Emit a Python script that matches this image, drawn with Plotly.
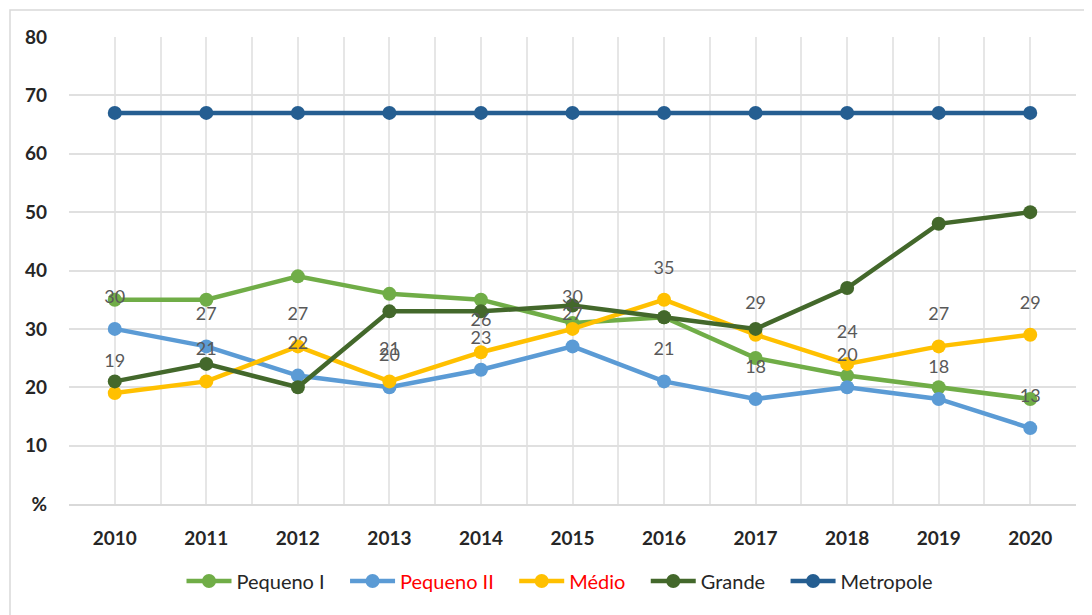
import plotly.graph_objects as go

years = [2010, 2011, 2012, 2013, 2014, 2015, 2016, 2017, 2018, 2019, 2020]
pequeno_i = [35, 35, 39, 36, 35, 31, 32, 25, 22, 20, 18]
pequeno_ii = [30, 27, 22, 20, 23, 27, 21, 18, 20, 18, 13]
medio = [19, 21, 27, 21, 26, 30, 35, 29, 24, 27, 29]
grande = [21, 24, 20, 33, 33, 34, 32, 30, 37, 48, 50]
metropole = [67, 67, 67, 67, 67, 67, 67, 67, 67, 67, 67]

y_ticks = [0, 10, 20, 30, 40, 50, 60, 70, 80]
y_ticktext = ["%", "10", "20", "30", "40", "50", "60", "70", "80"]

FONT = "Lato"
LABEL_COLOR = "#595959"
NB = "&nbsp;" * 3

series = [
    ("Pequeno I", pequeno_i, "#70AD47", False, "#262626"),
    ("Pequeno II", pequeno_ii, "#5B9BD5", True, "#FF0000"),
    ("Médio", medio, "#FFC000", True, "#FF0000"),
    ("Grande", grande, "#43682B", False, "#262626"),
    ("Metropole", metropole, "#255E91", False, "#262626"),
]

fig = go.Figure()
for name, vals, color, labels, legend_color in series:
    fig.add_trace(go.Scatter(
        x=years, y=vals,
        name=f'<span style="color:{legend_color}">{name}</span>' + (NB if name != "Metropole" else ""),
        mode="lines+markers",
        line=dict(color=color, width=4.5),
        marker=dict(color=color, size=14),
        hoverinfo="x+y",
    ))

# data labels (drawn on top)
for name, vals, color, labels, legend_color in series:
    if not labels:
        continue
    fig.add_trace(go.Scatter(
        x=years, y=vals, mode="markers+text",
        marker=dict(size=33, color="rgba(0,0,0,0)"),
        text=[str(v) for v in vals], textposition="top center",
        textfont=dict(family=FONT, size=18, color=LABEL_COLOR),
        showlegend=False, hoverinfo="skip",
    ))

# page body has an 8px margin: figure origin is at (8, 8)
PL, PR, PT, PB = 69, 1076, 37, 504
W, H = 1084, 607
fig.update_layout(
    width=W, height=H,
    margin=dict(l=PL - 8, r=(8 + W) - PR, t=PT - 8, b=(8 + H) - PB),
    paper_bgcolor="white", plot_bgcolor="white",
    font=dict(family=FONT, size=16, color="#262626"),
    showlegend=True,
    legend=dict(orientation="h", x=(560 - PL) / (PR - PL), xanchor="center",
                y=(PB - 581) / (PB - PT), yanchor="middle",
                font=dict(family=FONT, size=20, color="#262626"),
                itemwidth=45,
                tracegroupgap=0, bgcolor="rgba(0,0,0,0)"),
    shapes=[dict(type="rect", xref="paper", yref="paper",
                 x0=(10 - PL) / (PR - PL), x1=(1110 - PL) / (PR - PL),
                 y0=(PB - 640) / (PB - PT), y1=(PB - 10) / (PB - PT),
                 line=dict(color="#D9D9D9", width=1.5), fillcolor="rgba(0,0,0,0)", layer="below")],
)

fig.update_xaxes(
    range=[2009.5, 2020.5], tickvals=years, ticktext=[str(y) for y in years],
    showgrid=True, gridcolor="#E6E6E6", gridwidth=1.5,
    minor=dict(tick0=2009.5, dtick=1, showgrid=True, gridcolor="#E6E6E6", gridwidth=1.5),
    showline=True, linecolor="#D9D9D9", linewidth=2,
    zeroline=False, ticks="", ticklabelstandoff=16,
    tickfont=dict(family=FONT, size=19, color="#262626", weight="bold"),
)
fig.update_yaxes(
    range=[0, 80], tickvals=y_ticks, ticktext=y_ticktext,
    showgrid=True, gridcolor="#E0E0E0", gridwidth=1.5,
    zeroline=False, showline=False, ticks="", ticklabelstandoff=21,
    tickfont=dict(family=FONT, size=19, color="#262626", weight="bold"),
)

fig.write_html("out.html")
